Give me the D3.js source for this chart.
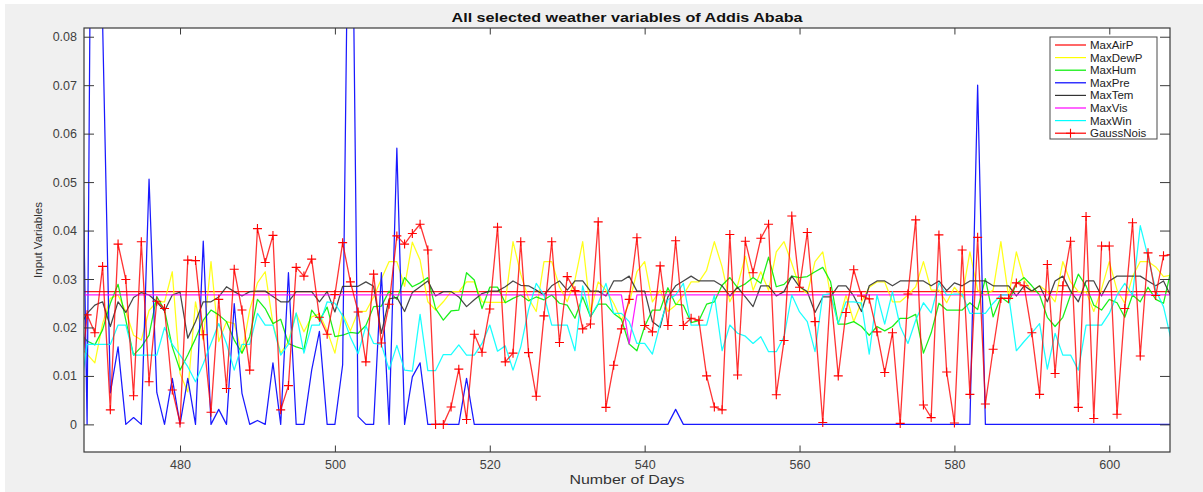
<!DOCTYPE html>
<html>
<head>
<meta charset="utf-8">
<script src="https://cdn.jsdelivr.net/npm/d3@7/dist/d3.min.js"></script>
<style>
  body { margin: 0; background: #ffffff; }
  svg { display: block; }
  text { font-family: "Liberation Sans", Arial, Helvetica, sans-serif; }
</style>
</head>
<body>
<svg id="chart" width="1203" height="492"></svg>
<script>
// Daily normalised weather variables, days 467..608
const firstDay = 467;
const lastDay = 608;

const maxAirP = [
  0.0274,0.0274,0.0274,0.0274,0.0274,0.0274,0.0274,0.0274,0.0274,0.0274,
  0.0274,0.0274,0.0274,0.0274,0.0274,0.0274,0.0274,0.0274,0.0274,0.0274,
  0.0274,0.0274,0.0274,0.0274,0.0274,0.0274,0.0274,0.0274,0.0274,0.0274,
  0.0274,0.0274,0.0274,0.0274,0.0274,0.0274,0.0274,0.0274,0.0274,0.0274,
  0.0274,0.0274,0.0274,0.0274,0.0274,0.0274,0.0274,0.0274,0.0274,0.0274,
  0.0274,0.0274,0.0274,0.0274,0.0274,0.0274,0.0274,0.0274,0.0274,0.0274,
  0.0274,0.0274,0.0274,0.0274,0.0274,0.0274,0.0274,0.0274,0.0274,0.0274,
  0.0274,0.0274,0.0274,0.0274,0.0274,0.0274,0.0274,0.0274,0.0274,0.0274,
  0.0274,0.0274,0.0274,0.0274,0.0274,0.0274,0.0274,0.0274,0.0274,0.0274,
  0.0274,0.0274,0.0274,0.0274,0.0274,0.0274,0.0274,0.0274,0.0274,0.0274,
  0.0274,0.0274,0.0274,0.0274,0.0274,0.0274,0.0274,0.0274,0.0274,0.0274,
  0.0274,0.0274,0.0274,0.0274,0.0274,0.0274,0.0274,0.0274,0.0274,0.0274,
  0.0274,0.0274,0.0274,0.0274,0.0274,0.0274,0.0274,0.0274,0.0274,0.0274,
  0.0274,0.0274,0.0274,0.0274,0.0274,0.0274,0.0274,0.0274,0.0274,0.0274,
  0.0274,0.0274
];

const maxDewP = [
  0.0160,0.0145,0.0127,0.0208,0.0260,0.0267,0.0233,0.0184,0.0174,0.0235,
  0.0253,0.0253,0.0315,0.0105,0.0067,0.0253,0.0174,0.0336,0.0171,0.0212,
  0.0208,0.0147,0.0236,0.0292,0.0315,0.0208,0.0147,0.0171,0.0229,0.0191,
  0.0222,0.0228,0.0193,0.0147,0.0229,0.0193,0.0233,0.0233,0.0263,0.0300,
  0.0336,0.0336,0.0285,0.0376,0.0339,0.0253,0.0236,0.0253,0.0274,0.0274,
  0.0294,0.0294,0.0253,0.0252,0.0252,0.0252,0.0377,0.0310,0.0260,0.0233,
  0.0336,0.0336,0.0284,0.0253,0.0298,0.0377,0.0233,0.0294,0.0277,0.0250,
  0.0215,0.0250,0.0315,0.0336,0.0253,0.0277,0.0233,0.0246,0.0267,0.0294,
  0.0294,0.0318,0.0377,0.0325,0.0253,0.0287,0.0347,0.0277,0.0315,0.0277,
  0.0356,0.0377,0.0332,0.0284,0.0270,0.0336,0.0356,0.0267,0.0208,0.0267,
  0.0212,0.0253,0.0283,0.0294,0.0294,0.0253,0.0253,0.0267,0.0284,0.0336,
  0.0277,0.0277,0.0251,0.0283,0.0263,0.0356,0.0277,0.0267,0.0277,0.0377,
  0.0263,0.0356,0.0298,0.0274,0.0286,0.0274,0.0253,0.0336,0.0294,0.0274,
  0.0274,0.0233,0.0279,0.0336,0.0277,0.0250,0.0305,0.0336,0.0336,0.0325,
  0.0305,0.0308
];

const maxHum = [
  0.0190,0.0172,0.0164,0.0195,0.0250,0.0289,0.0215,0.0143,0.0160,0.0184,
  0.0264,0.0236,0.0160,0.0112,0.0143,0.0177,0.0215,0.0236,0.0226,0.0212,
  0.0174,0.0147,0.0181,0.0258,0.0239,0.0208,0.0217,0.0167,0.0160,0.0155,
  0.0236,0.0215,0.0242,0.0181,0.0184,0.0190,0.0188,0.0204,0.0243,0.0244,
  0.0275,0.0258,0.0303,0.0284,0.0292,0.0303,0.0239,0.0215,0.0234,0.0236,
  0.0313,0.0298,0.0239,0.0283,0.0283,0.0251,0.0260,0.0267,0.0255,0.0263,
  0.0257,0.0267,0.0250,0.0246,0.0219,0.0263,0.0222,0.0248,0.0248,0.0229,
  0.0217,0.0166,0.0152,0.0202,0.0236,0.0236,0.0282,0.0248,0.0246,0.0210,
  0.0214,0.0248,0.0253,0.0287,0.0303,0.0282,0.0290,0.0303,0.0291,0.0345,
  0.0284,0.0289,0.0306,0.0303,0.0305,0.0315,0.0324,0.0295,0.0207,0.0207,
  0.0212,0.0202,0.0184,0.0202,0.0193,0.0202,0.0219,0.0219,0.0227,0.0147,
  0.0189,0.0250,0.0236,0.0236,0.0236,0.0251,0.0237,0.0301,0.0222,0.0263,
  0.0251,0.0290,0.0303,0.0286,0.0267,0.0221,0.0202,0.0221,0.0267,0.0310,
  0.0286,0.0246,0.0236,0.0258,0.0251,0.0221,0.0267,0.0253,0.0283,0.0258,
  0.0250,0.0320
];

const maxPre = [
  0.1000,0.0000,0.2300,0.0830,0.0065,0.0160,0.0000,0.0014,0.0000,0.0506,
  0.0066,0.0000,0.0095,0.0000,0.0095,0.0000,0.0378,0.0000,0.0031,0.0000,
  0.0249,0.0064,0.0000,0.0008,0.0000,0.0127,0.0000,0.0313,0.0000,0.0000,
  0.0112,0.0192,0.0000,0.0000,0.0123,0.1480,0.0016,0.0000,0.0000,0.0313,
  0.0000,0.0570,0.0000,0.0098,0.0127,0.0000,0.0000,0.0000,0.0000,0.0000,
  0.0095,0.0000,0.0000,0.0000,0.0000,0.0000,0.0000,0.0000,0.0000,0.0000,
  0.0000,0.0000,0.0000,0.0000,0.0000,0.0000,0.0000,0.0000,0.0000,0.0000,
  0.0000,0.0000,0.0000,0.0000,0.0000,0.0000,0.0000,0.0031,0.0000,0.0000,
  0.0000,0.0000,0.0000,0.0000,0.0000,0.0000,0.0000,0.0000,0.0000,0.0000,
  0.0000,0.0000,0.0000,0.0000,0.0000,0.0000,0.0000,0.0000,0.0000,0.0000,
  0.0000,0.0000,0.0000,0.0000,0.0000,0.0000,0.0000,0.0000,0.0000,0.0000,
  0.0000,0.0000,0.0000,0.0000,0.0000,0.0000,0.0700,0.0000,0.0000,0.0000,
  0.0000,0.0000,0.0000,0.0000,0.0000,0.0000,0.0000,0.0000,0.0000,0.0000,
  0.0000,0.0000,0.0000,0.0000,0.0000,0.0000,0.0000,0.0000,0.0000,0.0000,
  0.0000,0.0000
];

const maxTem = [
  0.0200,0.0229,0.0246,0.0253,0.0202,0.0253,0.0231,0.0262,0.0272,0.0267,
  0.0253,0.0234,0.0267,0.0273,0.0178,0.0212,0.0253,0.0253,0.0263,0.0284,
  0.0274,0.0265,0.0274,0.0275,0.0275,0.0264,0.0253,0.0253,0.0274,0.0274,
  0.0274,0.0253,0.0274,0.0232,0.0285,0.0285,0.0285,0.0294,0.0285,0.0188,
  0.0259,0.0262,0.0233,0.0272,0.0284,0.0296,0.0265,0.0274,0.0274,0.0263,
  0.0243,0.0257,0.0270,0.0275,0.0275,0.0284,0.0296,0.0287,0.0286,0.0277,
  0.0267,0.0286,0.0296,0.0277,0.0296,0.0296,0.0275,0.0275,0.0265,0.0296,
  0.0296,0.0306,0.0275,0.0275,0.0212,0.0200,0.0263,0.0286,0.0296,0.0306,
  0.0296,0.0296,0.0296,0.0286,0.0265,0.0283,0.0263,0.0243,0.0286,0.0286,
  0.0265,0.0274,0.0306,0.0284,0.0274,0.0231,0.0263,0.0263,0.0286,0.0286,
  0.0265,0.0233,0.0286,0.0296,0.0296,0.0286,0.0296,0.0296,0.0296,0.0296,
  0.0286,0.0296,0.0276,0.0292,0.0286,0.0296,0.0296,0.0296,0.0286,0.0286,
  0.0286,0.0265,0.0286,0.0275,0.0286,0.0253,0.0296,0.0306,0.0275,0.0253,
  0.0296,0.0296,0.0265,0.0296,0.0306,0.0306,0.0306,0.0306,0.0296,0.0286,
  0.0296,0.0263
];

const maxVis = [
  0.0267,0.0267,0.0267,0.0267,0.0267,0.0267,0.0267,0.0267,0.0267,0.0267,
  0.0267,0.0267,0.0267,0.0267,0.0267,0.0267,0.0267,0.0267,0.0267,0.0267,
  0.0267,0.0267,0.0267,0.0267,0.0267,0.0267,0.0267,0.0267,0.0267,0.0267,
  0.0267,0.0267,0.0267,0.0267,0.0267,0.0267,0.0267,0.0267,0.0267,0.0267,
  0.0267,0.0267,0.0267,0.0267,0.0267,0.0267,0.0267,0.0267,0.0267,0.0267,
  0.0267,0.0267,0.0267,0.0267,0.0267,0.0267,0.0267,0.0267,0.0267,0.0267,
  0.0267,0.0267,0.0267,0.0267,0.0267,0.0267,0.0267,0.0267,0.0267,0.0267,
  0.0267,0.0166,0.0267,0.0267,0.0267,0.0267,0.0267,0.0267,0.0267,0.0267,
  0.0267,0.0267,0.0267,0.0267,0.0267,0.0267,0.0267,0.0267,0.0267,0.0267,
  0.0267,0.0267,0.0267,0.0267,0.0267,0.0267,0.0267,0.0267,0.0267,0.0267,
  0.0267,0.0267,0.0267,0.0267,0.0267,0.0267,0.0267,0.0267,0.0267,0.0267,
  0.0267,0.0267,0.0267,0.0267,0.0267,0.0267,0.0267,0.0267,0.0267,0.0267,
  0.0267,0.0267,0.0267,0.0267,0.0267,0.0267,0.0267,0.0267,0.0267,0.0267,
  0.0267,0.0267,0.0267,0.0267,0.0267,0.0267,0.0267,0.0267,0.0267,0.0267,
  0.0267,0.0267
];

const maxWin = [
  0.0050,0.0165,0.0165,0.0165,0.0165,0.0205,0.0205,0.0143,0.0143,0.0143,
  0.0143,0.0200,0.0165,0.0143,0.0119,0.0088,0.0125,0.0167,0.0208,0.0167,
  0.0112,0.0165,0.0165,0.0229,0.0205,0.0205,0.0143,0.0165,0.0230,0.0147,
  0.0205,0.0205,0.0253,0.0250,0.0224,0.0180,0.0146,0.0203,0.0167,0.0165,
  0.0113,0.0163,0.0112,0.0110,0.0227,0.0111,0.0111,0.0144,0.0144,0.0164,
  0.0143,0.0143,0.0167,0.0205,0.0151,0.0162,0.0112,0.0160,0.0236,0.0291,
  0.0267,0.0205,0.0205,0.0205,0.0152,0.0286,0.0222,0.0250,0.0291,0.0229,
  0.0229,0.0212,0.0167,0.0167,0.0145,0.0207,0.0257,0.0267,0.0291,0.0205,
  0.0205,0.0205,0.0267,0.0152,0.0205,0.0188,0.0182,0.0167,0.0181,0.0150,
  0.0150,0.0181,0.0267,0.0232,0.0212,0.0150,0.0267,0.0270,0.0208,0.0253,
  0.0253,0.0250,0.0145,0.0267,0.0207,0.0274,0.0202,0.0167,0.0215,0.0251,
  0.0230,0.0292,0.0267,0.0269,0.0269,0.0229,0.0229,0.0229,0.0250,0.0267,
  0.0267,0.0152,0.0171,0.0189,0.0208,0.0114,0.0188,0.0143,0.0143,0.0112,
  0.0205,0.0205,0.0205,0.0229,0.0267,0.0291,0.0267,0.0410,0.0346,0.0277,
  0.0243,0.0174
];

const gaussNois = [
  0.0060,0.0226,0.0189,0.0326,0.0030,0.0372,0.0299,0.0059,0.0377,0.0088,
  0.0254,0.0239,0.0071,0.0003,0.0339,0.0338,0.0185,0.0025,0.0258,0.0074,
  0.0320,0.0236,0.0112,0.0404,0.0334,0.0390,0.0030,0.0080,0.0324,0.0306,
  0.0341,0.0221,0.0186,0.0268,0.0375,0.0294,0.0232,0.0129,0.0310,0.0168,
  0.0248,0.0389,0.0372,0.0394,0.0413,0.0360,0.0000,0.0000,0.0036,0.0114,
  0.0010,0.0186,0.0149,0.0238,0.0407,0.0129,0.0147,0.0377,0.0148,0.0058,
  0.0224,0.0377,0.0169,0.0305,0.0276,0.0197,0.0207,0.0418,0.0035,0.0122,
  0.0197,0.0258,0.0385,0.0204,0.0191,0.0327,0.0204,0.0379,0.0204,0.0219,
  0.0215,0.0100,0.0036,0.0030,0.0392,0.0102,0.0378,0.0313,0.0384,0.0413,
  0.0061,0.0173,0.0430,0.0283,0.0396,0.0212,0.0004,0.0274,0.0100,0.0231,
  0.0319,0.0265,0.0259,0.0191,0.0107,0.0189,0.0002,0.0269,0.0422,0.0040,
  0.0014,0.0391,0.0108,0.0003,0.0360,0.0062,0.0386,0.0042,0.0155,0.0260,
  0.0260,0.0292,0.0286,0.0189,0.0062,0.0330,0.0105,0.0286,0.0378,0.0035,
  0.0429,0.0012,0.0368,0.0368,0.0021,0.0239,0.0416,0.0141,0.0354,0.0266,
  0.0348,0.0350
];

const seriesNames = ["MaxAirP", "MaxDewP", "MaxHum", "MaxPre", "MaxTem", "MaxVis", "MaxWin", "GaussNois"];
const seriesValues = [maxAirP, maxDewP, maxHum, maxPre, maxTem, maxVis, maxWin, gaussNois];
const seriesColors = ["#ff0000", "#ffff00", "#00ee00", "#0000ff", "#333333", "#ff00ff", "#00ffff", "#ff0000"];

const xTicks = [480, 500, 520, 540, 560, 580, 600];
const yTicks = [0, 0.01, 0.02, 0.03, 0.04, 0.05, 0.06, 0.07, 0.08];
const titleText = "All selected weather variables of Addis Ababa";
const xLabelText = "Number of Days";
const yLabelText = "Input Variables";

// ---- layout ----
const W = 1203, H = 492;
const plot = { left: 84, right: 1170, top: 28, bottom: 452 };
const axisColor = "#3a3a3a";

const svg = d3.select("#chart");

// figure background
svg.append("rect").attr("x", 0).attr("y", 0).attr("width", W).attr("height", H).attr("fill", "#ffffff");
svg.append("rect").attr("x", 5).attr("y", 4).attr("width", W - 5).attr("height", H - 4).attr("fill", "#f0f0f0");

// axes background
svg.append("rect")
  .attr("x", plot.left).attr("y", plot.top)
  .attr("width", plot.right - plot.left).attr("height", plot.bottom - plot.top)
  .attr("fill", "#ffffff");

const days = d3.range(firstDay, lastDay + 1);

const x = d3.scaleLinear().domain([467.6, 607.84]).range([plot.left, plot.right]);
const y = d3.scaleLinear().domain([-0.0057, 0.0818]).range([plot.bottom, plot.top]);

svg.append("clipPath").attr("id", "plotClip")
  .append("rect")
  .attr("x", plot.left).attr("y", plot.top)
  .attr("width", plot.right - plot.left).attr("height", plot.bottom - plot.top);

const lines = svg.append("g").attr("clip-path", "url(#plotClip)");

const lineGen = d3.line()
  .x((d, i) => x(days[i]))
  .y(d => y(d));

seriesValues.forEach((vals, k) => {
  const isNoise = seriesNames[k] === "GaussNois";
  lines.append("path")
    .datum(vals)
    .attr("fill", "none")
    .attr("stroke", seriesColors[k])
    .attr("stroke-width", isNoise ? 1.3 : 1.25)
    .attr("stroke-opacity", isNoise ? 0.8 : 0.9)
    .attr("stroke-linejoin", "round")
    .attr("d", lineGen);
});

// plus markers on the noise series
const plusSize = 4.5;
const plusPath = `M${-plusSize},0H${plusSize}M0,${-plusSize}V${plusSize}`;
lines.append("g").selectAll("path")
  .data(gaussNois)
  .join("path")
  .attr("transform", (d, i) => `translate(${x(days[i])},${y(d)})`)
  .attr("d", plusPath)
  .attr("stroke", "#ff0000")
  .attr("stroke-width", 1.1)
  .attr("fill", "none");

// ---- axes (MATLAB style: ticks inside, box on) ----
const xTickLen = 6.5, yTickLen = 10;

const axisBottom = d3.axisBottom(x).tickValues(xTicks).tickSizeInner(-xTickLen).tickSizeOuter(0).tickPadding(8).tickFormat(d3.format("d"));
const axisTop = d3.axisTop(x).tickValues(xTicks).tickSizeInner(-xTickLen).tickSizeOuter(0).tickFormat("");
const axisLeft = d3.axisLeft(y).tickValues(yTicks).tickSizeInner(-yTickLen).tickSizeOuter(0).tickPadding(7).tickFormat(d => d === 0 ? "0" : d3.format(".2f")(d));
const axisRight = d3.axisRight(y).tickValues(yTicks).tickSizeInner(-yTickLen).tickSizeOuter(0).tickFormat("");

function styleAxis(g) {
  g.select(".domain").remove();
  g.selectAll(".tick line").attr("stroke", axisColor).attr("stroke-width", 1);
  g.selectAll(".tick text")
    .attr("fill", "#404040")
    .style("font-size", "12.5px")
    .style("font-family", '"Liberation Sans", Arial, Helvetica, sans-serif');
}

svg.append("g").attr("transform", `translate(0,${plot.bottom})`).call(axisBottom).call(styleAxis);
svg.append("g").attr("transform", `translate(0,${plot.top})`).call(axisTop).call(styleAxis);
svg.append("g").attr("transform", `translate(${plot.left},0)`).call(axisLeft).call(styleAxis);
svg.append("g").attr("transform", `translate(${plot.right},0)`).call(axisRight).call(styleAxis);

// axes box
svg.append("rect")
  .attr("x", plot.left).attr("y", plot.top)
  .attr("width", plot.right - plot.left).attr("height", plot.bottom - plot.top)
  .attr("fill", "none").attr("stroke", axisColor).attr("stroke-width", 1.2);

// ---- title and labels ----
svg.append("text")
  .attr("x", (plot.left + plot.right) / 2).attr("y", 22)
  .attr("text-anchor", "middle")
  .attr("font-weight", "bold")
  .attr("fill", "#111111")
  .style("font-size", "13px")
  .attr("textLength", 351)
  .attr("lengthAdjust", "spacingAndGlyphs")
  .text(titleText);

svg.append("text")
  .attr("x", (plot.left + plot.right) / 2).attr("y", 484)
  .attr("text-anchor", "middle")
  .attr("fill", "#333333")
  .style("font-size", "12.5px")
  .attr("textLength", 115)
  .attr("lengthAdjust", "spacingAndGlyphs")
  .text(xLabelText);

svg.append("text")
  .attr("transform", `translate(41.5,${(plot.top + plot.bottom) / 2}) rotate(-90)`)
  .attr("text-anchor", "middle")
  .attr("fill", "#333333")
  .style("font-size", "11.5px")
  .text(yLabelText);

// ---- legend ----
const legend = { x: 1050, y: 37, w: 107, h: 102, row0: 45, rowStep: 12.6, lineX0: 1055, lineX1: 1086, textX: 1090 };
const lg = svg.append("g");
lg.append("rect")
  .attr("x", legend.x).attr("y", legend.y)
  .attr("width", legend.w).attr("height", legend.h)
  .attr("fill", "#ffffff").attr("stroke", "#4a4a4a").attr("stroke-width", 1);

seriesNames.forEach((name, k) => {
  const ry = legend.row0 + k * legend.rowStep;
  lg.append("line")
    .attr("x1", legend.lineX0).attr("x2", legend.lineX1)
    .attr("y1", ry).attr("y2", ry)
    .attr("stroke", seriesColors[k]).attr("stroke-width", 1.2);
  if (name === "GaussNois") {
    lg.append("path")
      .attr("transform", `translate(${(legend.lineX0 + legend.lineX1) / 2},${ry})`)
      .attr("d", plusPath)
      .attr("stroke", "#ff0000").attr("stroke-width", 1.1).attr("fill", "none");
  }
  lg.append("text")
    .attr("x", legend.textX).attr("y", ry)
    .attr("dy", "0.35em")
    .attr("fill", "#222222")
    .style("font-size", "11.5px")
    .text(name);
});
</script>
</body>
</html>
